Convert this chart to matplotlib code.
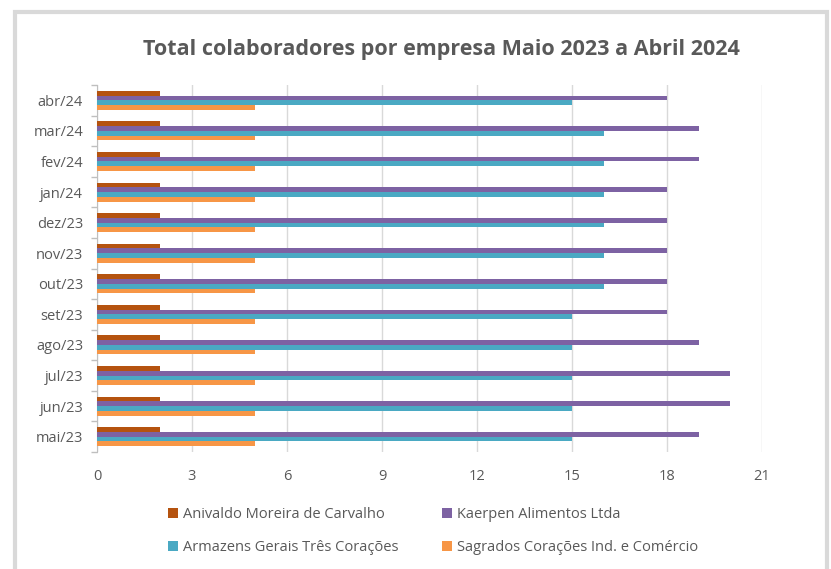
import matplotlib.pyplot as plt
import numpy as np
from matplotlib.patches import Rectangle

months = ["mai/23", "jun/23", "jul/23", "ago/23", "set/23", "out/23",
          "nov/23", "dez/23", "jan/24", "fev/24", "mar/24", "abr/24"]
anivaldo = [2, 2, 2, 2, 2, 2, 2, 2, 2, 2, 2, 2]
kaerpen = [19, 20, 20, 19, 18, 18, 18, 18, 18, 19, 19, 18]
armazens = [15, 15, 15, 15, 15, 16, 16, 16, 16, 16, 16, 15]
sagrados = [5, 5, 5, 5, 5, 5, 5, 5, 5, 5, 5, 5]
xticks = [0, 3, 6, 9, 12, 15, 18, 21]

C_ANI = "#b5530f"
C_KAE = "#7d62a3"
C_ARM = "#4aa9c3"
C_SAG = "#f79646"
TXT = "#595959"

plt.rcParams["font.family"] = ["Open Sans", "DejaVu Sans"]

fig = plt.figure(figsize=(8.31, 5.69), dpi=100)
fig.patches.append(Rectangle((15 / 831, -0.01), 812 / 831, 1 - 11.5 / 569 + 0.01,
                             transform=fig.transFigure, fill=False,
                             edgecolor="#d9d9d9", lw=3))
ax = fig.add_axes([97 / 831, 117 / 569, 665 / 831, 367 / 569])

y = np.arange(len(months))
h = 0.155
series = [(anivaldo, C_ANI, "Anivaldo Moreira de Carvalho"),
          (kaerpen, C_KAE, "Kaerpen Alimentos Ltda"),
          (armazens, C_ARM, "Armazens Gerais Três Corações"),
          (sagrados, C_SAG, "Sagrados Corações Ind. e Comércio")]
offsets = [1.5 * h, 0.5 * h, -0.5 * h, -1.5 * h]
for (vals, col, lab), off in zip(series, offsets):
    ax.barh(y + off, vals, height=h, color=col, label=lab, zorder=3)

ax.set_xlim(0, 21)
ax.set_ylim(-0.5, len(months) - 0.5)
ax.set_xticks(xticks)
ax.set_yticks(y)
ax.set_yticklabels(months)
ax.set_yticks(np.arange(-0.5, len(months), 1), minor=True)
ax.tick_params(axis="y", which="major", length=0, pad=10, labelsize=10.5, colors=TXT)
ax.tick_params(axis="y", which="minor", length=4, color="#bfbfbf", width=1)
ax.tick_params(axis="x", length=0, pad=12, labelsize=10.5, colors=TXT)
ax.grid(axis="x", color="#d9d9d9", lw=1, zorder=0)
for s in ("top", "right", "bottom"):
    ax.spines[s].set_visible(False)
ax.spines["left"].set_color("#bfbfbf")

fig.text(441 / 831, 1 - 50 / 569, "Total colaboradores por empresa Maio 2023 a Abril 2024",
         ha="center", va="center", fontsize=15.5, fontweight="bold", color=TXT)

handles, labels = ax.get_legend_handles_labels()
order = [0, 2, 1, 3]
leg = fig.legend([handles[i] for i in order], [labels[i] for i in order],
                 loc="center", bbox_to_anchor=(433 / 831, 1 - 531 / 569), ncol=2,
                 frameon=False, fontsize=10.5, handlelength=0.7, handleheight=0.7,
                 handletextpad=0.3, columnspacing=3.0, labelspacing=1.25)
for t in leg.get_texts():
    t.set_color(TXT)

fig.savefig("out.png", dpi=100, facecolor="white")
